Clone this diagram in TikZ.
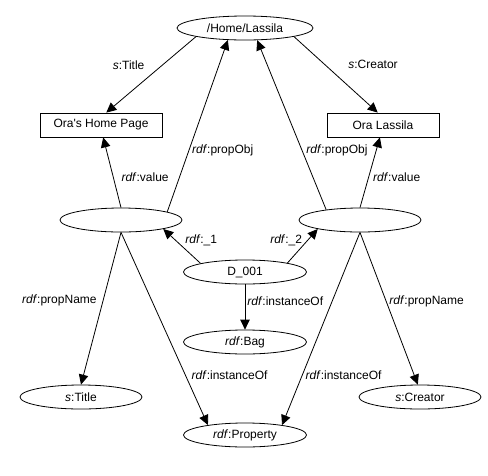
\documentclass[tikz,border=0pt]{standalone}
\usepackage{fontspec}
\setmainfont{Liberation Sans}
\usetikzlibrary{arrows.meta, shapes.geometric}
\usetikzlibrary{positioning}
\tikzstyle{res_node} = [
    ellipse, 
    draw=black, 
    line width=0.8pt, 
    inner sep=0pt, 
    minimum width=122pt, 
    minimum height=24pt
]
\tikzstyle{lit_node} = [
    rectangle, 
    draw=black, 
    line width=0.8pt, 
    inner sep=0pt, 
    minimum height=24pt
]
\tikzstyle{edge_lab} = [
    inner sep=1pt, 
    font=\fontsize{12}{14}\selectfont
]

\begin{document}
\begin{tikzpicture}[
    x=1pt, y=-1pt,
    font=\fontsize{12}{14}\selectfont,
    arc/.style={
        line width=0.8pt, 
        -{Triangle[length=10pt, width=9.5pt]}
    }
]
\useasboundingbox (0,0) rectangle (488,475);

% resources and literals
\node [res_node, minimum width=136pt] (home) at (245,28) {/Home/Lassila};
\node [lit_node, minimum width=122pt] (homepage) at (101,125) {Ora\textquotesingle s Home Page};
\node [lit_node, minimum width=112pt] (lassila) at (383,125) {Ora Lassila};
\node [res_node] (stmt_a) at (121,220) {};
\node [res_node] (stmt_b) at (360,220) {};
\node [res_node, minimum width=123pt] (bag_d) at (245,272) {D\_001};
\node [res_node, minimum width=123pt] (bag_class) at (245,342) {\textit{rdf}:Bag};
\node [res_node] (title_prop) at (81,397) {\textit{s}:Title};
\node [res_node] (creator_prop) at (420,397) {\textit{s}:Creator};
\node [res_node, minimum width=123pt] (property) at (245,435) {\textit{rdf}:Property};

% properties of the page
\draw [arc] (home.190) -- node [edge_lab, pos=0.37, left=17pt] {\textit{s}:Title} (homepage.67);
\draw [arc] (home.-10) -- node [edge_lab, pos=0.37, right=22pt] {\textit{s}:Creator} (lassila.113);

% reified statements
\draw [arc] (stmt_a.10) -- node [edge_lab, pos=0.355, right=2pt] {\textit{rdf}:propObj} (home.215);
\draw [arc] (stmt_b.163) -- node [edge_lab, pos=0.35, right=3pt] {\textit{rdf}:propObj} (home.-45);
\draw [arc] (stmt_a.90) -- node [edge_lab, pos=0.44, right=7pt] {\textit{rdf}:value} (homepage.-80);
\draw [arc] (stmt_b.90) -- node [edge_lab, pos=0.44, right=3pt] {\textit{rdf}:value} (lassila.256);
\draw [arc] (stmt_a.-90) -- node [edge_lab, pos=0.45, left=5pt] {\textit{rdf}:propName} (title_prop.north);
\draw [arc] (stmt_a.-90) -- node [edge_lab, pos=0.74, right=5pt] {\textit{rdf}:instanceOf} (property.165);
\draw [arc] (stmt_b.-90) -- node [edge_lab, pos=0.74, right=2pt] {\textit{rdf}:instanceOf} (property.15);
\draw [arc] (stmt_b.-90) -- node [edge_lab, pos=0.45, right=2pt] {\textit{rdf}:propName} (creator_prop.100);

% the bag
\draw [arc] (bag_d.169) -- node [edge_lab, pos=0.66, right=8pt] {\textit{rdf}:\_1} (stmt_a.-12);
\draw [arc] (bag_d.12) -- node [edge_lab, pos=0.66, left=4pt] {\textit{rdf}:\_2} (stmt_b.192);
\draw [arc] (bag_d.south) -- node [edge_lab, pos=0.37, right=1pt] {\textit{rdf}:instanceOf} (bag_class.north);
\end{tikzpicture}
\end{document}
